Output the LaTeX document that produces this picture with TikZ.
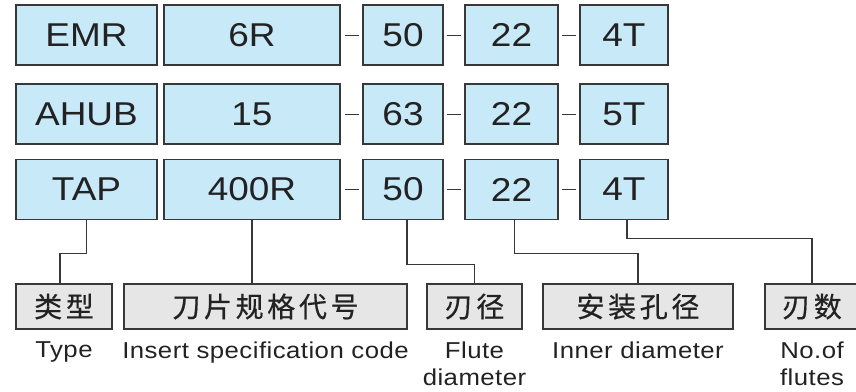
\documentclass[tikz,border=0pt]{standalone}
\usepackage{fontspec}
\setmainfont{Liberation Sans}[FakeStretch=1.12]
\newfontfamily\cjk{Noto Sans CJK SC}[LetterSpace=13, FakeBold=0.5]
\usetikzlibrary{positioning}
\definecolor{boxblue}{HTML}{C8E9F8}
\definecolor{boxgray}{HTML}{E6E6E6}
\definecolor{inkgray}{HTML}{383838}
\definecolor{ink}{HTML}{222222}
\tikzset{
	code/.style={draw=inkgray, line width=1.2pt, fill=boxblue, minimum height=60pt, inner sep=0pt, text=ink, font=\fontsize{33}{33}\selectfont},
	tag/.style={draw=inkgray, line width=1.2pt, fill=boxgray, minimum height=45pt, inner sep=0pt, text=ink, font=\fontsize{28}{28}\cjk},
	en/.style={inner sep=0pt, align=center, text=ink, font=\fontsize{23}{27}\selectfont\addfontfeature{LetterSpace=2}},
	hyph/.style={line width=1pt, draw=inkgray},
	link/.style={line width=1.2pt, draw=inkgray},
}
\begin{document}
\begin{tikzpicture}[x=1pt, y=-1pt]
		\useasboundingbox (0,0) rectangle (856,391);
		%top
			%row 1
			\node[code, minimum width=141pt] (type1) at (86.5,35) {EMR};
			\node[code, minimum width=176pt] (spec1) at (252,35) {6R};
			\node[code, minimum width=80pt] (dia1) at (403,35) {50};
			\node[code, minimum width=93pt] (bore1) at (511.5,35) {22};
			\node[code, minimum width=88pt] (nf1) at (624,35) {4T};
			%row 2
			\node[code, minimum width=141pt] (type2) at (86.5,114) {AHUB};
			\node[code, minimum width=176pt] (spec2) at (252,114) {15};
			\node[code, minimum width=80pt] (dia2) at (403,114) {63};
			\node[code, minimum width=93pt] (bore2) at (511.5,114) {22};
			\node[code, minimum width=88pt] (nf2) at (624,114) {5T};
			%row 3
			\node[code, minimum width=141pt] (type3) at (86.5,189.5) {TAP};
			\node[code, minimum width=176pt] (spec3) at (252,189.5) {400R};
			\node[code, minimum width=80pt] (dia3) at (403,189.5) {50};
			\node[code, minimum width=93pt] (bore3) at (511.5,189.5) {22};
			\node[code, minimum width=88pt] (nf3) at (624,189.5) {4T};
			%dashes
			\draw[hyph] ([xshift=4pt]spec1.east) -- ([xshift=-3pt]dia1.west);
			\draw[hyph] ([xshift=3pt]dia1.east) -- ([xshift=-3pt]bore1.west);
			\draw[hyph] ([xshift=3pt]bore1.east) -- ([xshift=-3pt]nf1.west);
			\draw[hyph] ([xshift=4pt]spec2.east) -- ([xshift=-3pt]dia2.west);
			\draw[hyph] ([xshift=3pt]dia2.east) -- ([xshift=-3pt]bore2.west);
			\draw[hyph] ([xshift=3pt]bore2.east) -- ([xshift=-3pt]nf2.west);
			\draw[hyph] ([xshift=4pt]spec3.east) -- ([xshift=-3pt]dia3.west);
			\draw[hyph] ([xshift=3pt]dia3.east) -- ([xshift=-3pt]bore3.west);
			\draw[hyph] ([xshift=3pt]bore3.east) -- ([xshift=-3pt]nf3.west);
		%bottom
			%tags
			\node[tag, minimum width=96pt] (typeTag) at (64,306.5) {类型};
			\node[tag, minimum width=283pt] (specTag) at (265.5,306.5) {刀片规格代号};
			\node[tag, minimum width=95pt] (diaTag) at (474.5,306.5) {刃径};
			\node[tag, minimum width=190pt] (boreTag) at (638,306.5) {安装孔径};
			\node[tag, minimum width=94pt] (nfTag) at (812,306.5) {刃数};
			%english
			\node[en, below=12pt of typeTag] (typeEn) {Type};
			\node[en, below=12pt of specTag] (specEn) {Insert specification code};
			\node[en, below=12pt of diaTag] (diaEn) {Flute\\diameter};
			\node[en, below=12pt of boreTag] (boreEn) {Inner diameter};
			\node[en, below=12pt of nfTag] (nfEn) {No.of\\flutes};
		%links
			\draw[link] (type3.south) -- ++(0,33) -| ([xshift=-4pt]typeTag.north);
			\draw[link] (spec3.south) -- (spec3.south |- specTag.north);
			\draw[link] ([xshift=4pt]dia3.south) -- ++(0,44) -| (diaTag.north);
			\draw[link] ([xshift=3pt]bore3.south) -- ++(0,33) -| (boreTag.north);
			\draw[link] ([xshift=3pt]nf3.south) -- ++(0,18) -| (nfTag.north);
\end{tikzpicture}
\end{document}
